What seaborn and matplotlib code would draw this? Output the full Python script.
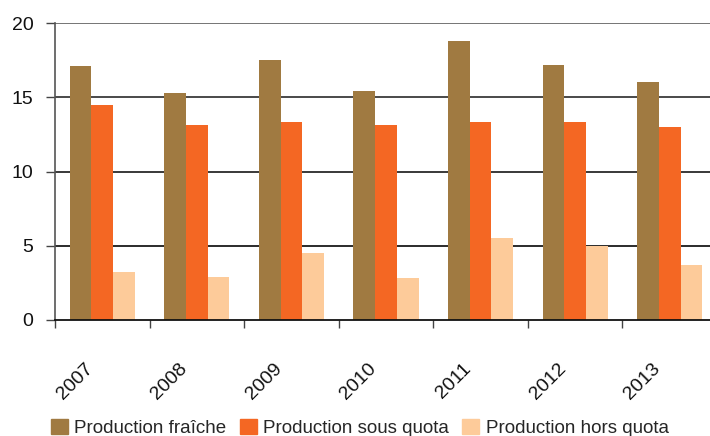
import matplotlib
matplotlib.use("Agg")
import matplotlib.pyplot as plt
import matplotlib.transforms as mtransforms
import seaborn as sns
import pandas as pd
import numpy as np

# Annual production figures
years = ["2007", "2008", "2009", "2010", "2011", "2012", "2013"]
production_fraiche = [17.1, 15.3, 17.5, 15.4, 18.8, 17.2, 16.0]
production_sous_quota = [14.5, 13.1, 13.3, 13.1, 13.3, 13.3, 13.0]
production_hors_quota = [3.2, 2.9, 4.5, 2.8, 5.5, 5.0, 3.7]
series_names = ["Production fraîche", "Production sous quota", "Production hors quota"]
colors = ["#A07A41", "#F46723", "#FDCB9A"]

df = pd.DataFrame({
    "annee": years * 3,
    "valeur": production_fraiche + production_sous_quota + production_hors_quota,
    "serie": [s for s in series_names for _ in years],
})

sns.set_style("white")
plt.rcParams["font.family"] = ["Liberation Sans", "DejaVu Sans"]

W, H = 710, 436
fig = plt.figure(figsize=(W / 100, H / 100), dpi=100)
ax = fig.add_axes([55 / W, (H - 320) / H, 662 / W, 297 / H])

sns.barplot(data=df, x="annee", y="valeur", hue="serie", palette=colors,
            width=0.69, saturation=1, ax=ax, legend=False, linewidth=0)

ax.set_xlim(-0.5, len(years) - 0.5)
ax.set_ylim(0, 20)
ax.set_yticks([0, 5, 10, 15, 20])
ax.set_xlabel("")
ax.set_ylabel("")

# horizontal gridlines behind the bars
for yv, col in [(5, "#1a1a1a"), (10, "#2a2a2a"), (15, "#3a3a3a"), (20, "#6a6a6a")]:
    ax.axhline(yv, color=col, lw=1.3, zorder=0)

for side in ["top", "right"]:
    ax.spines[side].set_visible(False)
ax.spines["left"].set_color("#555555")
ax.spines["left"].set_linewidth(1.2)
ax.spines["bottom"].set_color("#111111")
ax.spines["bottom"].set_linewidth(1.3)

# y ticks
ax.tick_params(axis="y", length=6.5, width=1.0, color="#444444", pad=9,
               labelsize=14, labelcolor="#111111", left=True)

# category boundary tick marks on x, labels at centres
ax.set_xticks(np.arange(len(years)))
ax.set_xticks(np.arange(len(years) + 1) - 0.5, minor=True)
ax.tick_params(axis="x", which="major", length=0, pad=33, labelsize=14,
               labelcolor="#111111")
ax.tick_params(axis="x", which="minor", length=6, width=1.0, color="#444444",
               bottom=True)
offset = mtransforms.ScaledTranslation(-12 / 100, 0, fig.dpi_scale_trans)
for lbl in ax.get_xticklabels():
    lbl.set_rotation(45)
    lbl.set_ha("right")
    lbl.set_va("center")
    lbl.set_rotation_mode("anchor")
    lbl.set_transform(lbl.get_transform() + offset)

handles = [plt.Rectangle((0, 0), 1, 1, color=c) for c in colors]
fig.legend(handles, series_names, loc="center left",
           bbox_to_anchor=(51 / W, 1 - 428 / H), frameon=False, ncol=3,
           fontsize=13.5, handlelength=0.9, handleheight=0.9,
           handletextpad=0.35, columnspacing=0.7, borderpad=0,
           borderaxespad=0)

fig.savefig("out.png", dpi=100)
